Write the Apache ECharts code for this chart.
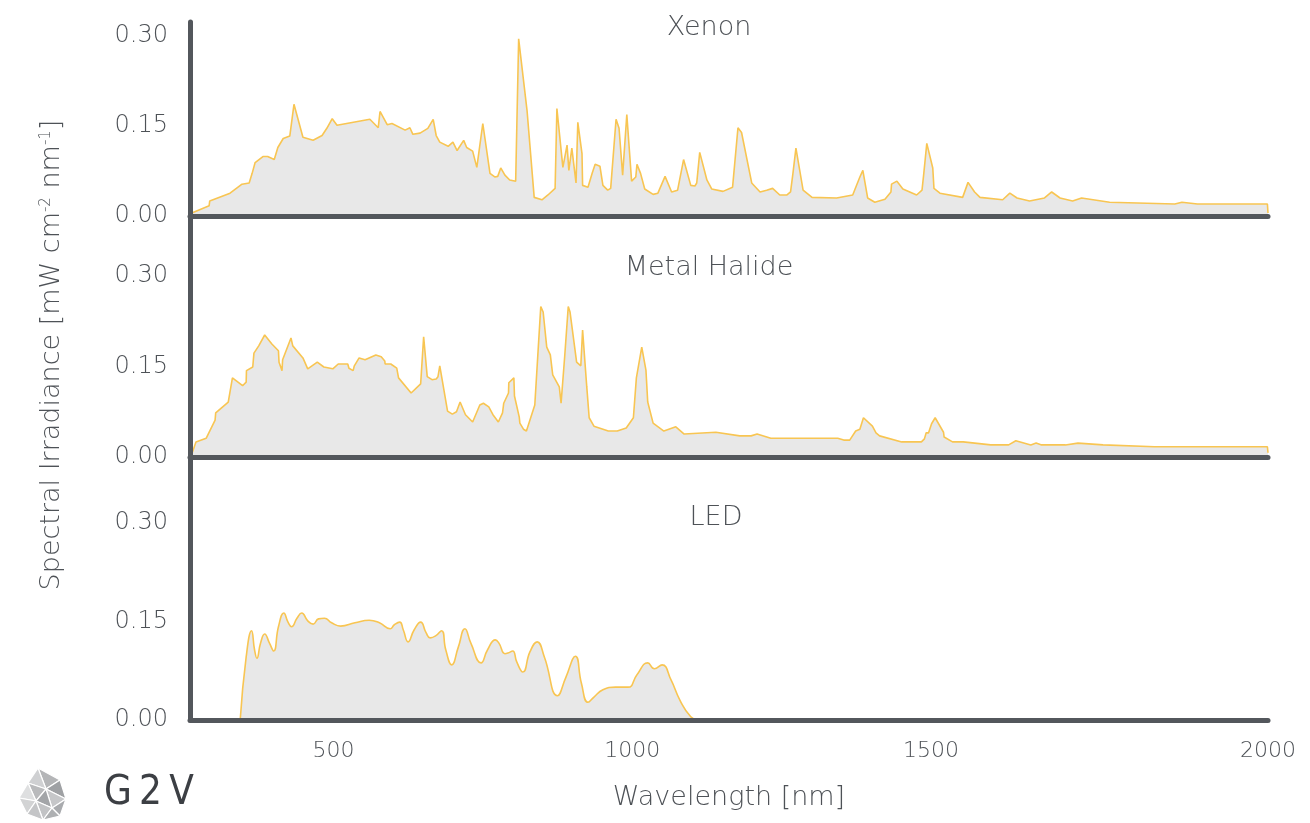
<!DOCTYPE html>
<html>
<head>
<meta charset="utf-8">
<script src="https://cdn.jsdelivr.net/npm/echarts@6/dist/echarts.min.js"></script>
<style>
  html, body { margin: 0; padding: 0; background: #fff; }
  #chart { width: 1310px; height: 823px; }
</style>
</head>
<body>
<div id="chart"></div>
<script>
// spectra, wavelength in nm, irradiance in mW cm-2 nm-1
const xenonNm = [263, 292, 293, 327, 347, 359, 364, 369, 382, 390, 401, 407, 416, 427, 434, 449, 466, 481, 489, 498,
  506, 561, 575, 578, 590, 598, 620, 628, 633, 645, 658, 667, 672, 678, 692, 700, 707, 718, 723, 733,
  740, 750, 762, 770, 775, 780, 787, 795, 805, 810, 824, 836, 849, 859, 871, 874, 884, 891, 894, 899,
  906, 909, 916, 917, 926, 933, 938, 946, 951, 959, 964, 973, 978, 984, 991, 999, 1006, 1008, 1014, 1021,
  1035, 1043, 1055, 1066, 1076, 1086, 1098, 1105, 1108, 1113, 1125, 1133, 1152, 1168, 1177, 1183, 1200, 1214, 1225, 1235,
  1247, 1259, 1265, 1269, 1274, 1286, 1301, 1342, 1369, 1381, 1386, 1394, 1406, 1423, 1433, 1434, 1443, 1446, 1453, 1476,
  1485, 1488, 1493, 1503, 1505, 1515, 1553, 1562, 1573, 1582, 1620, 1632, 1644, 1665, 1690, 1702, 1716, 1737, 1752, 1799,
  1908, 1920, 1946, 2063, 2064];
const xenonVal = [0.005, 0.017, 0.025, 0.038, 0.053, 0.055, 0.071, 0.089, 0.099, 0.099, 0.094, 0.114, 0.129, 0.133, 0.186, 0.131, 0.126, 0.134, 0.146, 0.162,
  0.151, 0.161, 0.147, 0.174, 0.152, 0.154, 0.143, 0.147, 0.136, 0.138, 0.146, 0.161, 0.134, 0.123, 0.116, 0.123, 0.109, 0.126, 0.114, 0.108,
  0.081, 0.154, 0.071, 0.065, 0.066, 0.080, 0.068, 0.060, 0.058, 0.295, 0.176, 0.031, 0.027, 0.035, 0.046, 0.179, 0.081, 0.118, 0.076, 0.113,
  0.055, 0.156, 0.104, 0.051, 0.048, 0.071, 0.086, 0.083, 0.051, 0.043, 0.046, 0.161, 0.146, 0.068, 0.169, 0.058, 0.065, 0.086, 0.071, 0.045,
  0.036, 0.038, 0.066, 0.040, 0.043, 0.094, 0.051, 0.050, 0.055, 0.106, 0.060, 0.045, 0.041, 0.048, 0.147, 0.139, 0.055, 0.040, 0.043, 0.046,
  0.035, 0.035, 0.040, 0.071, 0.113, 0.043, 0.031, 0.030, 0.035, 0.065, 0.076, 0.030, 0.023, 0.028, 0.040, 0.053, 0.058, 0.055, 0.045, 0.035,
  0.043, 0.071, 0.121, 0.080, 0.046, 0.038, 0.031, 0.056, 0.040, 0.031, 0.027, 0.038, 0.030, 0.025, 0.030, 0.040, 0.030, 0.025, 0.030, 0.023,
  0.020, 0.023, 0.020, 0.020, 0.005];

const halideNm = [264, 270, 287, 302, 303, 324, 331, 348, 354, 354.5, 365, 367, 375, 385, 397, 408, 409, 414, 415, 429,
  432, 449, 457, 473, 484, 499, 508, 524, 526, 533, 535, 543, 553, 571, 580, 586, 586.5, 596, 606, 609,
  630, 646, 651, 657, 665, 672, 675, 678, 691, 699, 706, 712, 721, 733, 745, 751, 760, 767, 776, 783,
  785, 793, 793.5, 802, 803, 811, 812, 818, 823, 837, 847, 851, 857, 863, 867, 878, 881, 887, 893, 896,
  907, 914, 917, 924, 928, 936, 960, 975, 990, 1002, 1007, 1016, 1023, 1026, 1035, 1053, 1073, 1087, 1140, 1180,
  1199, 1209, 1232, 1344, 1354, 1364, 1374, 1381, 1387, 1402, 1408, 1414, 1451, 1484, 1489, 1492, 1496, 1501, 1507, 1521,
  1522, 1536, 1554, 1600, 1630, 1642, 1667, 1676, 1685, 1725, 1746, 1788, 1874, 2063, 2064];
const halideVal = [0.008, 0.025, 0.031, 0.061, 0.073, 0.091, 0.131, 0.118, 0.124, 0.143, 0.149, 0.172, 0.184, 0.202, 0.187, 0.176, 0.157, 0.143, 0.161, 0.197,
  0.184, 0.164, 0.146, 0.157, 0.149, 0.146, 0.154, 0.154, 0.147, 0.143, 0.151, 0.164, 0.161, 0.169, 0.166, 0.159, 0.154, 0.154, 0.147, 0.131,
  0.106, 0.121, 0.199, 0.133, 0.128, 0.129, 0.133, 0.151, 0.076, 0.071, 0.075, 0.091, 0.070, 0.058, 0.086, 0.089, 0.083, 0.070, 0.058, 0.073,
  0.089, 0.106, 0.123, 0.131, 0.101, 0.066, 0.056, 0.046, 0.043, 0.086, 0.249, 0.240, 0.182, 0.169, 0.136, 0.116, 0.089, 0.166, 0.249, 0.240,
  0.157, 0.151, 0.210, 0.116, 0.065, 0.051, 0.043, 0.043, 0.048, 0.065, 0.131, 0.182, 0.144, 0.091, 0.056, 0.043, 0.050, 0.038, 0.041, 0.035,
  0.035, 0.038, 0.031, 0.031, 0.028, 0.028, 0.043, 0.046, 0.065, 0.051, 0.040, 0.035, 0.025, 0.025, 0.030, 0.040, 0.040, 0.055, 0.065, 0.041,
  0.033, 0.025, 0.025, 0.020, 0.020, 0.027, 0.020, 0.023, 0.020, 0.020, 0.023, 0.020, 0.017, 0.017, 0.007];

const ledNm = [344, 354, 363, 368, 372, 378, 385, 393, 400, 408, 417, 424, 430, 439, 447, 457, 466, 475, 485, 497,
  512, 536, 560, 577, 595, 602, 611, 617, 625, 635, 646, 655, 662, 671, 681, 688, 698, 709, 720, 730,
  747, 758, 771, 777, 787, 792, 800, 807, 817, 829, 841, 853, 875, 889, 905, 915, 926, 936, 951, 972,
  993, 1008, 1026, 1037, 1050, 1065, 1080, 1098, 1110];
const ledVal = [0, 0.096, 0.136, 0.107, 0.094, 0.117, 0.131, 0.117, 0.105, 0.142, 0.163, 0.149, 0.142, 0.155, 0.163, 0.151, 0.146, 0.154, 0.155, 0.148,
  0.143, 0.148, 0.152, 0.148, 0.139, 0.145, 0.149, 0.137, 0.119, 0.137, 0.149, 0.133, 0.125, 0.128, 0.136, 0.107, 0.084, 0.111, 0.139, 0.117,
  0.087, 0.107, 0.122, 0.117, 0.101, 0.102, 0.105, 0.088, 0.073, 0.104, 0.119, 0.096, 0.037, 0.065, 0.097, 0.056, 0.027, 0.035, 0.046, 0.050,
  0.050, 0.069, 0.087, 0.078, 0.084, 0.061, 0.030, 0.005, 0];

const panelTitles = ['Xenon', 'Metal Halide', 'LED'];
const yTicks = [0, 0.15, 0.30];
const xTicks = [500, 1000, 1500, 2064]; // last tick sits at the axis end, labelled 2000 as in the reference
const xMin = 260, xMax = 2064;

const axisColor = '#53575c';
const textColor = '#4e5257';
const lineColor = '#f8c552';
const fillColor = '#e8e8e8';
const font = '"DejaVu Sans", Lato, sans-serif';
const weight = 200;

const chart = echarts.init(document.getElementById('chart'));

const zip = (xs, ys) => xs.map((x, i) => [x, ys[i]]);

const grids = [
  { left: 190, right: 42, top: 22, height: 194 },
  { left: 190, right: 42, top: 216, height: 241 },
  { left: 190, right: 42, top: 457, height: 263 }
];
const yMaxes = [0.323, 0.399, 0.4005];

const xAxes = grids.map((g, i) => ({
  type: 'value',
  gridIndex: i,
  min: xMin,
  max: xMax,
  z: 5,
  axisLine: { show: true, onZero: false, lineStyle: { color: axisColor, width: 5, cap: 'round' } },
  axisTick: { show: false },
  splitLine: { show: false },
  axisLabel: i < 2 ? { show: false } : {
    customValues: xTicks,
    margin: 20,
    fontSize: 22,
    fontFamily: font,
    fontWeight: weight,
    color: textColor,
    formatter: v => (v > 2000 ? '2000' : String(v))
  },
  name: i === 2 ? 'Wavelength [nm]' : '',
  nameLocation: 'middle',
  nameGap: 64,
  nameTextStyle: { fontSize: 27, fontFamily: font, fontWeight: weight, color: textColor }
}));

const yAxes = grids.map((g, i) => ({
  type: 'value',
  gridIndex: i,
  min: 0,
  max: yMaxes[i],
  z: 5,
  axisLine: { show: true, lineStyle: { color: axisColor, width: 5 } },
  axisTick: { show: false },
  splitLine: { show: false },
  axisLabel: {
    customValues: yTicks,
    margin: 22,
    fontSize: 24,
    fontFamily: font,
    fontWeight: weight,
    color: textColor,
    formatter: v => v.toFixed(2)
  }
}));

const spectra = [zip(xenonNm, xenonVal), zip(halideNm, halideVal), zip(ledNm, ledVal)];

const series = spectra.map((d, i) => ({
  name: panelTitles[i],
  type: 'line',
  xAxisIndex: i,
  yAxisIndex: i,
  data: d,
  showSymbol: false,
  smooth: i === 2 ? 0.5 : false,
  lineStyle: { color: lineColor, width: 1.6 },
  areaStyle: { color: fillColor, opacity: 1 },
  z: 2
}));

const titleTops = [9, 249, 499];
const titleLefts = [704, 704, 711];

// G2V logo mark: a loose triangulated half-sphere
const logoTris = [
  [[38, 768], [60, 780], [46, 789]],
  [[60, 780], [66, 799], [46, 789]],
  [[46, 789], [66, 799], [52, 808]],
  [[66, 799], [60, 816], [52, 808]],
  [[38, 768], [46, 789], [28, 783]],
  [[28, 783], [46, 789], [36, 801]],
  [[46, 789], [52, 808], [36, 801]],
  [[36, 801], [52, 808], [43, 820]],
  [[52, 808], [60, 816], [43, 820]],
  [[28, 783], [36, 801], [19, 798]],
  [[19, 798], [36, 801], [27, 814]],
  [[36, 801], [43, 820], [27, 814]]
];
const logoShades = ['#b4b5b7', '#9fa1a4', '#c6c7c9', '#a9abae', '#cfd0d2', '#b9babc', '#a3a5a8', '#c2c3c5', '#aeb0b2', '#dedfe0', '#d2d3d4', '#c4c5c7'];

chart.setOption({
  animation: false,
  backgroundColor: '#ffffff',
  title: panelTitles.map((t, i) => ({
    text: t,
    left: titleLefts[i],
    top: titleTops[i],
    textAlign: 'center',
    textStyle: { fontSize: 27, fontWeight: weight, fontFamily: font, color: textColor }
  })),
  grid: grids,
  xAxis: xAxes,
  yAxis: yAxes,
  series,
  graphic: [
    {
      type: 'text',
      x: 52,
      y: 355,
      rotation: Math.PI / 2,
      style: {
        text: '{a|Spectral Irradiance [mW cm}{s|-2}{a| nm}{s|-1}{a|]}',
        align: 'center',
        verticalAlign: 'middle',
        rich: {
          a: { fontSize: 27, fontFamily: font, fontWeight: weight, fill: textColor },
          s: { fontSize: 15, fontFamily: font, fontWeight: weight, fill: textColor, verticalAlign: 'top' }
        }
      }
    },
    {
      type: 'text',
      x: 104,
      y: 794,
      style: {
        text: 'G\u20092\u2009V',
        fontSize: 40,
        fontFamily: '"DejaVu Sans Condensed", "Liberation Sans Narrow", sans-serif',
        fontWeight: weight,
        fill: '#3c3f44',
        verticalAlign: 'middle'
      }
    },
    ...logoTris.map((pts, i) => ({
      type: 'polygon',
      shape: { points: pts },
      style: { fill: logoShades[i], stroke: '#ffffff', lineWidth: 1.2 }
    }))
  ]
});
</script>
</body>
</html>
